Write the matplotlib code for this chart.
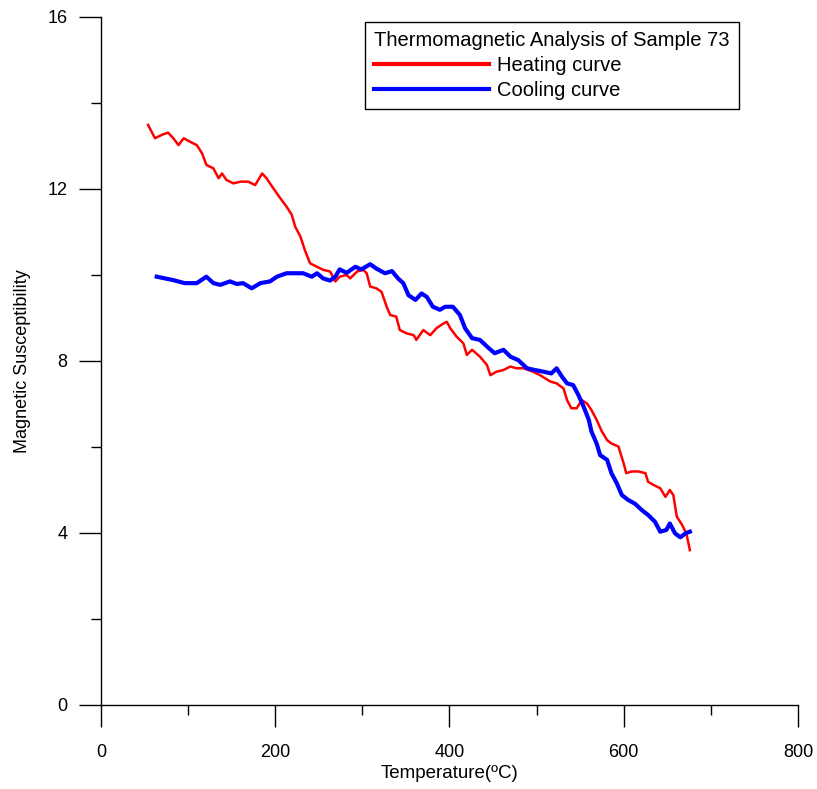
import matplotlib
matplotlib.use("Agg")
import matplotlib.pyplot as plt
from matplotlib.ticker import MultipleLocator

plt.rcParams['font.family'] = ['Liberation Sans', 'DejaVu Sans']

# heating curve
heat_t = [54, 62, 70, 77, 83, 89, 95, 102, 110, 116, 121, 129, 135, 139, 144, 152, 160, 169,
          177, 185, 190, 198, 206, 213, 219, 223, 229, 234, 240, 248, 255, 263, 269, 274, 282,
          286, 294, 301, 305, 309, 316, 322, 328, 332, 339, 343, 351, 359, 362, 370, 378, 385,
          393, 397, 401, 408, 416, 420, 426, 435, 443, 447, 454, 462, 470, 477, 485, 496, 504,
          516, 523, 531, 535, 540, 546, 552, 558, 563, 569, 575, 581, 586, 594, 600, 603, 609,
          617, 625, 628, 634, 642, 648, 653, 657, 661, 667, 672, 676]
heat_m = [13.49, 13.18, 13.26, 13.31, 13.18, 13.02, 13.18, 13.10, 13.02, 12.83, 12.56, 12.48,
          12.25, 12.36, 12.21, 12.13, 12.17, 12.17, 12.09, 12.36, 12.25, 12.01, 11.78, 11.59,
          11.40, 11.12, 10.89, 10.58, 10.27, 10.19, 10.12, 10.08, 9.85, 9.96, 10.00, 9.92,
          10.08, 10.12, 10.04, 9.73, 9.69, 9.61, 9.26, 9.07, 9.03, 8.72, 8.64, 8.60, 8.49, 8.72,
          8.60, 8.76, 8.87, 8.91, 8.76, 8.57, 8.41, 8.14, 8.26, 8.10, 7.91, 7.67, 7.75, 7.79,
          7.87, 7.83, 7.83, 7.75, 7.67, 7.52, 7.48, 7.36, 7.09, 6.90, 6.90, 7.09, 7.01, 6.86,
          6.63, 6.36, 6.16, 6.08, 6.01, 5.62, 5.39, 5.43, 5.43, 5.39, 5.19, 5.12, 5.04, 4.84,
          5.00, 4.88, 4.38, 4.19, 3.99, 3.60]

# cooling curve
cool_t = [64, 83, 96, 110, 121, 129, 137, 148, 156, 163, 173, 183, 194, 202, 213, 225, 232,
          242, 248, 255, 263, 269, 274, 282, 292, 299, 309, 316, 326, 334, 341, 347, 353, 361,
          368, 374, 381, 389, 395, 404, 412, 418, 426, 435, 445, 452, 462, 470, 479, 489, 498,
          508, 517, 523, 529, 535, 542, 548, 554, 560, 563, 569, 573, 581, 586, 592, 598, 605,
          613, 621, 628, 636, 642, 649, 653, 659, 665, 671, 676]
cool_m = [9.96, 9.88, 9.81, 9.81, 9.96, 9.81, 9.77, 9.85, 9.79, 9.81, 9.69, 9.81, 9.85, 9.96,
          10.04, 10.04, 10.04, 9.96, 10.04, 9.92, 9.87, 9.96, 10.13, 10.05, 10.19, 10.13, 10.25,
          10.15, 10.04, 10.09, 9.92, 9.81, 9.53, 9.42, 9.57, 9.49, 9.26, 9.19, 9.26, 9.26, 9.07,
          8.76, 8.53, 8.49, 8.30, 8.18, 8.26, 8.10, 8.02, 7.83, 7.79, 7.75, 7.71, 7.83, 7.64,
          7.48, 7.44, 7.21, 6.94, 6.63, 6.36, 6.08, 5.81, 5.70, 5.39, 5.16, 4.88, 4.77, 4.68,
          4.53, 4.42, 4.26, 4.03, 4.07, 4.22, 3.99, 3.90, 3.99, 4.03]

fig = plt.figure(figsize=(8.17, 7.89), dpi=100)
ax = fig.add_axes([0.1236, 0.1065, 0.853, 0.872])

ax.plot(heat_t, heat_m, color='#ff0000', lw=1.8, label='Heating curve')
ax.plot(cool_t, cool_m, color='#0000ff', lw=3, label='Cooling curve')

ax.set_xlim(0, 800)
ax.set_ylim(0, 16)
ax.xaxis.set_major_locator(MultipleLocator(200))
ax.xaxis.set_minor_locator(MultipleLocator(100))
ax.yaxis.set_major_locator(MultipleLocator(4))
ax.yaxis.set_minor_locator(MultipleLocator(2))
ax.tick_params(which='major', direction='out', length=16, width=1, labelsize=13)
ax.tick_params(axis='y', which='major', pad=8)
ax.tick_params(axis='x', which='major', pad=12)
ax.tick_params(which='minor', direction='out', length=7.5, width=1)
for s in ['top', 'right']:
    ax.spines[s].set_visible(False)
for s in ['left', 'bottom']:
    ax.spines[s].set_linewidth(1)

ax.set_xlabel('Temperature(ºC)', fontsize=13.5, labelpad=3)
ax.set_ylabel('Magnetic Susceptibility', fontsize=13, labelpad=12)

leg = ax.legend(title='Thermomagnetic Analysis of Sample 73', loc='upper left',
                bbox_to_anchor=(0.379, 0.993), fontsize=14.5, title_fontsize=14.5,
                handlelength=5.7, handletextpad=0.4, labelspacing=0.3,
                borderpad=0.45, borderaxespad=0, fancybox=False, framealpha=1,
                edgecolor='black', alignment='left')
leg.get_frame().set_linewidth(1)
leg.get_lines()[0].set_linewidth(3)
leg.get_lines()[1].set_linewidth(3)

fig.savefig('out.png', dpi=100)
